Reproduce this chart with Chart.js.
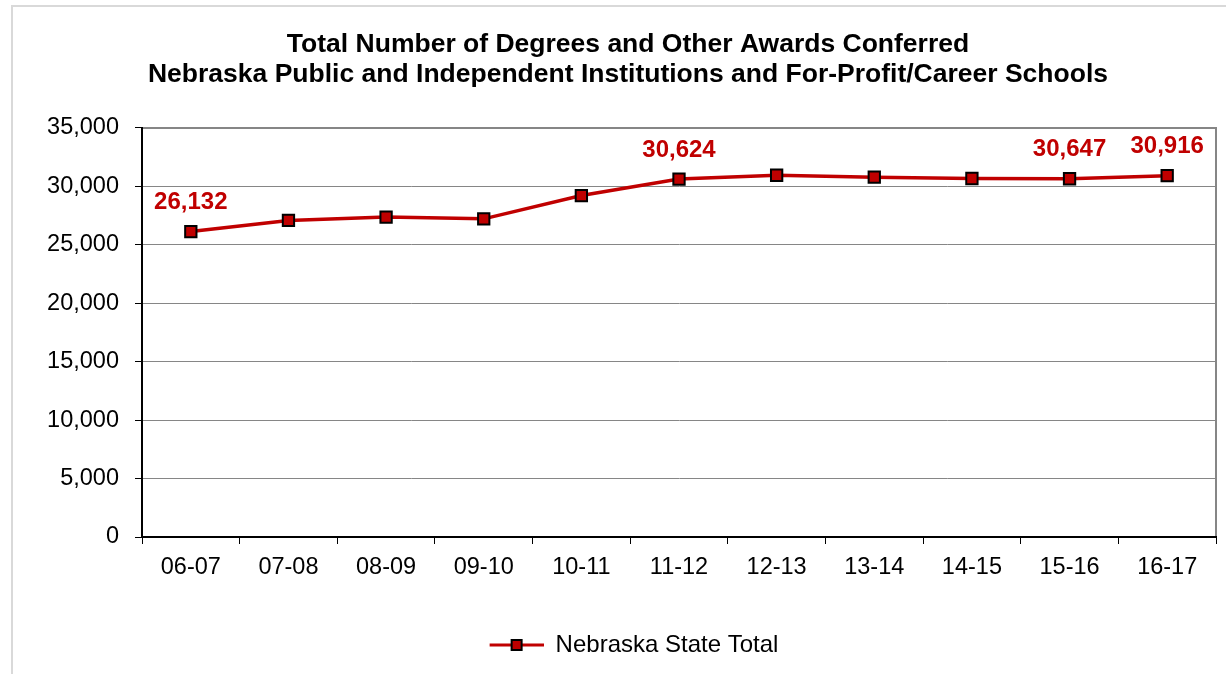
<!DOCTYPE html>
<html>
<head>
<meta charset="utf-8">
<script src="https://cdn.jsdelivr.net/npm/chart.js@4"></script>
<style>
  html, body { margin: 0; padding: 0; background: #fff; }
  #wrap { position: relative; width: 1226px; height: 674px; }
  #frame { position: absolute; left: 11px; top: 5px; width: 1300px; height: 800px;
           border-left: 2px solid #d9d9d9; border-top: 2px solid #d9d9d9; }
  canvas { position: absolute; left: 0; top: 0; }
</style>
</head>
<body>
<div id="wrap">
  <div id="frame"></div>
  <canvas id="myChart" width="1226" height="674"></canvas>
</div>
<script>
var years = ["06-07", "07-08", "08-09", "09-10", "10-11", "11-12", "12-13", "13-14", "14-15", "15-16", "16-17"];
var stateTotal = [26132, 27080, 27370, 27220, 29210, 30624, 30950, 30780, 30670, 30647, 30916];
var labelled = ["06-07", "11-12", "15-16", "16-17"];
var titleLines = [
  "Total Number of Degrees and Other Awards Conferred",
  "Nebraska Public and Independent Institutions and For-Profit/Career Schools"
];

var red = "#c00000";
var fontName = "'Liberation Sans', Arial, sans-serif";

// legend symbol: line with square marker (a little blank space on the left)
var legendIcon = document.createElement("canvas");
legendIcon.width = 66;
legendIcon.height = 14;
var ic = legendIcon.getContext("2d");
ic.strokeStyle = red;
ic.lineWidth = 3;
ic.beginPath();
ic.moveTo(12, 7);
ic.lineTo(66, 7);
ic.stroke();
ic.fillStyle = red;
ic.fillRect(34, 2, 10, 10);
ic.strokeStyle = "#000";
ic.lineWidth = 2;
ic.strokeRect(34, 2, 10, 10);

var plotFrame = {
  id: "plotFrame",
  beforeDraw: function (chart) {
    var a = chart.chartArea;
    var c = chart.ctx;
    c.save();
    c.strokeStyle = "#868686";
    c.lineWidth = 2;
    c.beginPath();
    c.moveTo(a.left, a.top);
    c.lineTo(a.right, a.top);
    c.lineTo(a.right, a.bottom);
    c.stroke();
    c.restore();
  }
};

var valueLabels = {
  id: "valueLabels",
  afterDatasetsDraw: function (chart) {
    var c = chart.ctx;
    var meta = chart.getDatasetMeta(0);
    c.save();
    c.fillStyle = red;
    c.font = "bold 24px " + fontName;
    c.textAlign = "center";
    c.textBaseline = "middle";
    meta.data.forEach(function (pt, i) {
      if (labelled.indexOf(years[i]) < 0) return;
      c.fillText(stateTotal[i].toLocaleString("en-US"), pt.x, pt.y - 29);
    });
    c.restore();
  }
};

const ctx = document.getElementById("myChart");

new Chart(ctx, {
  type: "line",
  data: {
    labels: years,
    datasets: [
      {
        label: "Nebraska State Total",
        data: stateTotal,
        fill: false,
        borderColor: red,
        borderWidth: 3.5,
        tension: 0,
        pointStyle: "rect",
        pointRadius: 8,
        pointBackgroundColor: red,
        pointBorderColor: "#000",
        pointBorderWidth: 2,
      },
    ],
  },
  options: {
    responsive: false,
    animation: false,
    devicePixelRatio: 1,
    layout: { padding: { left: 40, right: 10, top: 30, bottom: 7 } },
    plugins: {
      title: {
        display: true,
        text: titleLines,
        color: "#000",
        font: { family: fontName, size: 26.5, weight: "bold", lineHeight: 1.13 },
        padding: { top: 0, bottom: 38 },
      },
      legend: {
        position: "bottom",
        labels: {
          color: "#000",
          font: { family: fontName, size: 24 },
          usePointStyle: true,
          pointStyleWidth: 66,
          boxHeight: 14,
          padding: 10,
          generateLabels: function (chart) {
            return [{
              text: "Nebraska State Total",
              pointStyle: legendIcon,
              fillStyle: red,
              strokeStyle: red,
              lineWidth: 0,
              datasetIndex: 0,
            }];
          },
        },
      },
      tooltip: { enabled: false },
    },
    scales: {
      x: {
        offset: true,
        afterFit: function (s) { s.height = 86; },
        grid: {
          offset: true,
          drawOnChartArea: false,
          drawTicks: true,
          tickLength: 7,
          color: "#000",
        },
        border: { color: "#000", width: 2 },
        ticks: {
          color: "#000",
          font: { family: fontName, size: 23.5 },
          padding: 9,
          maxRotation: 0,
        },
      },
      y: {
        min: 0,
        max: 35000,
        afterFit: function (s) { s.width = 102; },
        grid: {
          color: "#868686",
          lineWidth: 1,
          tickLength: 7,
          tickColor: "#000",
        },
        border: { color: "#000", width: 2 },
        ticks: {
          stepSize: 5000,
          color: "#000",
          font: { family: fontName, size: 23.5 },
          padding: 16,
          callback: function (v) { return v.toLocaleString("en-US"); },
        },
      },
    },
  },
  plugins: [plotFrame, valueLabels],
});
</script>
</body>
</html>
